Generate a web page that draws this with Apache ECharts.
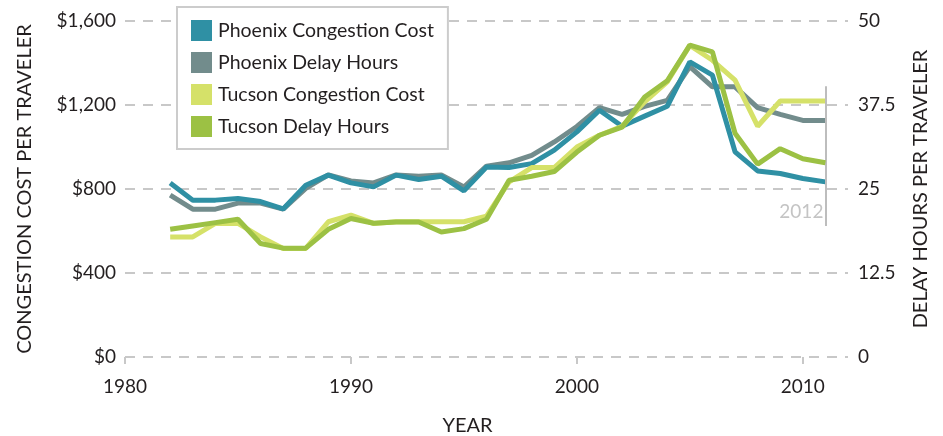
<!DOCTYPE html>
<html>
<head>
<meta charset="utf-8">
<script src="https://cdn.jsdelivr.net/npm/echarts@6/dist/echarts.min.js"></script>
<style>
  html, body { margin: 0; padding: 0; background: #fff; }
  #main { width: 943px; height: 436px; }
</style>
</head>
<body>
<div id="main"></div>
<script>
// years 1982 - 2011
const years = [1982, 1983, 1984, 1985, 1986, 1987, 1988, 1989, 1990, 1991,
  1992, 1993, 1994, 1995, 1996, 1997, 1998, 1999, 2000, 2001,
  2002, 2003, 2004, 2005, 2006, 2007, 2008, 2009, 2010, 2011]

// dollars per traveler
const phoenixCost = [828, 747, 747, 755, 740, 705, 818, 866, 829, 810,
  866, 845, 861, 791, 905, 902, 921, 985, 1072, 1175,
  1099, 1147, 1194, 1405, 1342, 977, 886, 874, 850, 834]
const tucsonCost = [572, 572, 636, 636, 572, 517, 517, 644, 676, 636,
  644, 644, 644, 644, 671, 834, 902, 902, 1000, 1056,
  1099, 1215, 1310, 1484, 1413, 1318, 1099, 1219, 1219, 1219]

// hours per traveler
const phoenixDelay = [24.1, 22.0, 22.0, 22.9, 22.9, 22.0, 25.1, 27.1, 26.2, 25.9,
  27.1, 26.9, 27.1, 25.3, 28.4, 28.9, 30.0, 32.0, 34.3, 37.1,
  36.1, 37.3, 38.2, 43.2, 40.2, 40.2, 37.1, 36.1, 35.2, 35.2]
const tucsonDelay = [19.0, 19.5, 20.0, 20.5, 16.9, 16.2, 16.2, 19.0, 20.6, 19.9,
  20.1, 20.1, 18.6, 19.1, 20.5, 26.3, 26.9, 27.6, 30.5, 33.0,
  34.2, 38.7, 41.1, 46.4, 45.4, 33.3, 28.7, 31.0, 29.5, 28.9]

const xTicks = [1980, 1990, 2000, 2010]
const markYear = 2011
const markLabel = '2012'

const pair = (xs, ys) => xs.map((x, i) => [x, ys[i]])

const chartDom = document.getElementById('main')
const myChart = echarts.init(chartDom)

const axisText = {
  color: '#231f20',
  fontSize: 19,
  fontFamily: 'Lato'
}
const titleText = {
  color: '#231f20',
  fontSize: 20,
  fontFamily: 'Lato'
}

function lineSeries(name, color, yIndex, data, z) {
  return {
    name: name,
    type: 'line',
    yAxisIndex: yIndex,
    showSymbol: false,
    symbol: 'none',
    z: z,
    lineStyle: { color: color, width: 5 },
    itemStyle: { color: color },
    emphasis: { disabled: true },
    data: data
  }
}

var option = {
  animation: false,
  grid: {
    left: 125,
    right: 95,
    top: 21,
    bottom: 79,
    outerBoundsMode: 'none'
  },
  legend: {
    orient: 'vertical',
    left: 177,
    top: 7,
    icon: 'rect',
    itemWidth: 21,
    itemHeight: 21,
    itemGap: 11,
    padding: [13, 14, 12, 14],
    backgroundColor: '#fff',
    borderColor: '#cccccc',
    borderWidth: 2,
    textStyle: {
      color: '#231f20',
      fontSize: 19.5,
      fontFamily: 'Lato',
      padding: [0, 0, 0, 1]
    },
    data: ['Phoenix Congestion Cost', 'Phoenix Delay Hours', 'Tucson Congestion Cost', 'Tucson Delay Hours']
  },
  xAxis: {
    type: 'value',
    min: 1980,
    max: 2012,
    interval: 10,
    name: 'YEAR',
    nameLocation: 'middle',
    nameGap: 59,
    nameTextStyle: Object.assign({ padding: [0, 38, 0, 0] }, titleText),
    axisLine: { show: false },
    axisTick: {
      show: true,
      length: 7,
      customValues: xTicks,
      lineStyle: { color: '#c8c8c8', width: 2 }
    },
    axisLabel: Object.assign({
      customValues: xTicks,
      margin: 20,
      formatter: (v) => String(v)
    }, axisText),
    splitLine: { show: false }
  },
  yAxis: [
    {
      type: 'value',
      min: 0,
      max: 1600,
      interval: 400,
      name: 'CONGESTION COST PER TRAVELER',
      nameLocation: 'middle',
      nameGap: 90,
      nameTextStyle: titleText,
      axisLine: { show: false },
      axisTick: { show: false },
      axisLabel: Object.assign({
        margin: 9,
        formatter: (v) => '$' + v.toLocaleString('en-US')
      }, axisText),
      splitLine: {
        lineStyle: { color: '#c8c8c8', width: 2, type: [10, 8] }
      }
    },
    {
      type: 'value',
      min: 0,
      max: 50,
      interval: 12.5,
      name: 'DELAY HOURS PER TRAVELER',
      nameLocation: 'middle',
      nameGap: 63,
      nameRotate: 90,
      nameTextStyle: titleText,
      axisLine: { show: false },
      axisTick: { show: false },
      axisLabel: Object.assign({ margin: 10 }, axisText),
      splitLine: { show: false }
    }
  ],
  series: [
    lineSeries('Phoenix Congestion Cost', '#2f90a4', 0, pair(years, phoenixCost), 3),
    lineSeries('Phoenix Delay Hours', '#728c8c', 1, pair(years, phoenixDelay), 2),
    lineSeries('Tucson Congestion Cost', '#d5e169', 0, pair(years, tucsonCost), 4),
    Object.assign(lineSeries('Tucson Delay Hours', '#9cc144', 1, pair(years, tucsonDelay), 5), {
      markLine: {
        silent: true,
        symbol: 'none',
        label: { show: false },
        lineStyle: { color: '#bdbdbd', width: 2, type: 'solid' },
        data: [[
          { coord: [markYear, 19.5] },
          { coord: [markYear, 40.3] }
        ]]
      },
      markPoint: {
        silent: true,
        symbol: 'rect',
        symbolSize: 0,
        label: {
          show: true,
          position: 'left',
          distance: 2,
          formatter: markLabel,
          color: '#c4c4c4',
          fontSize: 19,
          fontFamily: 'Lato'
        },
        data: [{ coord: [markYear, 21.6] }]
      }
    })
  ]
}

option && myChart.setOption(option)
</script>
</body>
</html>
